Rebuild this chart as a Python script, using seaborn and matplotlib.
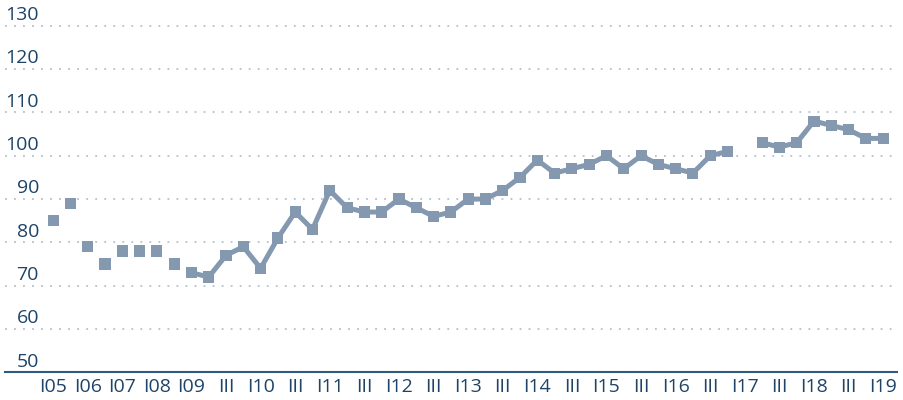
import matplotlib
matplotlib.use('Agg')
import matplotlib.pyplot as plt
import matplotlib.transforms as mtransforms
import numpy as np
import pandas as pd
import seaborn as sns

# Index values, semiannual then quarterly (one point per category slot)
values = [85, 89, 79, 75, 78, 78, 78, 75, 73, 72, 77, 79, 74, 81, 87, 83, 92, 88,
          87, 87, 90, 88, 86, 87, 90, 90, 92, 95, 99, 96, 97, 98, 100, 97, 100, 98,
          97, 96, 100, 101, np.nan, 103, 102, 103, 108, 107, 106, 104, 104]

# Connected line segments (start index, end index)
line_segments = [(8, 39), (41, 48)]

tick_labels = ['I05', 'I06', 'I07', 'I08', 'I09', 'III', 'I10', 'III', 'I11', 'III',
               'I12', 'III', 'I13', 'III', 'I14', 'III', 'I15', 'III', 'I16', 'III',
               'I17', 'III', 'I18', 'III', 'I19']

y_ticks = [50, 60, 70, 80, 90, 100, 110, 120, 130]

MARK = '#8499b0'
TEXT = '#1d4468'
GRID = '#b3c0cd'


def main():
    sns.set_theme(style='white')
    plt.rcParams['font.family'] = ['Open Sans', 'DejaVu Sans']

    df = pd.DataFrame({'idx': np.arange(len(values)), 'value': values})
    df['seg'] = -1
    for k, (a, b) in enumerate(line_segments):
        df.loc[(df['idx'] >= a) & (df['idx'] <= b), 'seg'] = k
    line_df = df[df['seg'] >= 0].dropna()

    fig = plt.figure(figsize=(9.04, 4.0), dpi=100)
    ax = fig.add_axes([5 / 904, 27.7 / 400, 892 / 904, 367.3 / 400])

    for y in y_ticks[1:]:
        ax.axhline(y, color=GRID, linewidth=1.3, linestyle=(0, (1, 4)), zorder=0,
                   xmax=(895 - 5) / 892)

    sns.lineplot(data=line_df, x='idx', y='value', units='seg', estimator=None,
                 color=MARK, linewidth=3.6, ax=ax, zorder=2)
    sns.scatterplot(data=df.dropna(), x='idx', y='value', marker='s', s=64,
                    color=MARK, edgecolor='none', linewidth=0, ax=ax, zorder=3)

    ax.set_xlim(-2.78, 48.8)
    ax.set_ylim(50, 134.8)

    ax.set_xticks(np.arange(0, len(values), 2))
    ax.set_xticklabels(tick_labels, fontsize=14, color=TEXT)
    ax.tick_params(axis='x', length=0, pad=4)
    ax.set_yticks([])
    ax.set_xlabel('')
    ax.set_ylabel('')

    for side in ['top', 'right', 'left']:
        ax.spines[side].set_visible(False)
    ax.spines['bottom'].set_color('#2e5a80')
    ax.spines['bottom'].set_linewidth(1.5)

    # y labels sit above the gridlines, right-aligned
    trans = mtransforms.blended_transform_factory(fig.transFigure, ax.transData)
    for y in y_ticks:
        ax.text(39 / 904, y + 0.4, str(y), transform=trans, ha='right', va='bottom',
                fontsize=14, color=TEXT)

    fig.savefig('out.png', dpi=100)


if __name__ == '__main__':
    main()
